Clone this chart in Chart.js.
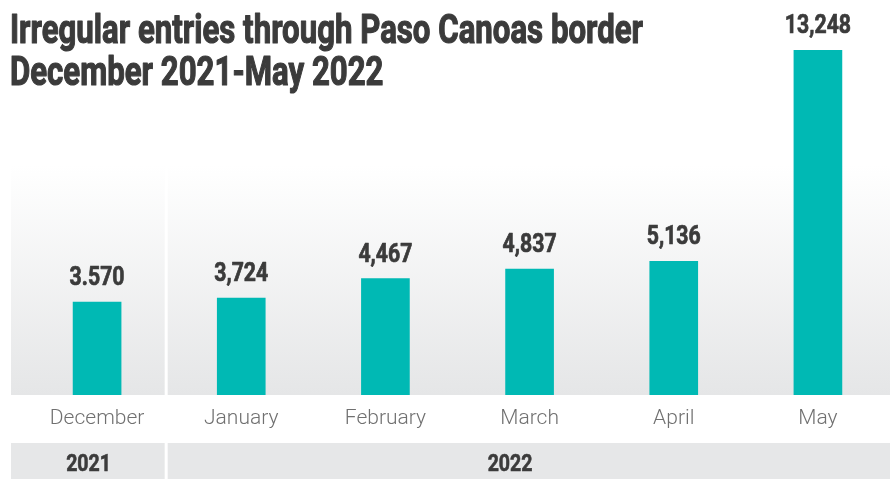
<!DOCTYPE html>
<html>
<head>
<meta charset="utf-8">
<script src="https://cdn.jsdelivr.net/npm/chart.js"></script>
<style>
  html, body { margin: 0; padding: 0; background: #fff; }
  #chart { display: block; }
</style>
</head>
<body>
<canvas id="chart" width="890" height="479"></canvas>
<script>
// Entradas irregulares por Paso Canoas
const months = ['December', 'January', 'February', 'March', 'April', 'May'];
const entries = [3570, 3724, 4467, 4837, 5136, 13248];
const valueLabels = ['3.570', '3,724', '4,467', '4,837', '5,136', '13,248'];
const years = ['2021', '2022'];
const titleLines = ['Irregular entries through Paso Canoas border', 'December 2021-May 2022'];

const TEXT_DARK = '#3b3b3b';
const BAR_COLOR = '#00b9b4';
const BAND_COLOR = '#e6e7e8';

// texto "condensado": Roboto bold comprimido na horizontal, com contorno leve
function condensedText(ctx, text, x, y, size, align, sx, weight) {
  ctx.save();
  ctx.font = 'bold ' + size + 'px Roboto';
  ctx.textBaseline = 'alphabetic';
  ctx.textAlign = 'left';
  const w = ctx.measureText(text).width * sx;
  let left = x;
  if (align === 'center') left = x - w / 2;
  ctx.translate(left, y);
  ctx.scale(sx, 1);
  ctx.fillText(text, 0, 0);
  if (weight) {
    ctx.strokeStyle = ctx.fillStyle;
    ctx.lineWidth = weight;
    ctx.lineJoin = 'round';
    ctx.strokeText(text, 0, 0);
  }
  ctx.restore();
}

// fundo em degradê, divisória entre anos e faixa dos anos
const backdrop = {
  id: 'backdrop',
  beforeDraw(chart) {
    const { ctx, chartArea, scales } = chart;
    const x = scales.x;
    const top = 165, bottom = chartArea.bottom;
    const grad = ctx.createLinearGradient(0, top, 0, bottom);
    grad.addColorStop(0, '#ffffff');
    grad.addColorStop(1, '#e5e6e7');
    ctx.save();
    ctx.fillStyle = grad;
    ctx.fillRect(11, top, chart.width - 11, bottom - top);

    const bandTop = 443, bandBottom = chart.height;
    ctx.fillStyle = BAND_COLOR;
    ctx.fillRect(11, bandTop, chart.width - 11, bandBottom - bandTop);

    // linha branca entre 2021 e 2022
    const divX = (x.getPixelForValue(0) + x.getPixelForValue(1)) / 2 - 3;
    ctx.fillStyle = '#ffffff';
    ctx.fillRect(divX - 1.5, top, 3, bandBottom - top);

    ctx.fillStyle = TEXT_DARK;
    const centers = [(11 + divX) / 2, (divX + chart.width - 36) / 2];
    years.forEach((yr, i) => {
      condensedText(ctx, yr, centers[i], 471, 23, 'center', 0.85, 0.6);
    });
    ctx.restore();
  }
};

// título e rótulos de valor
const labelsPlugin = {
  id: 'labelsPlugin',
  afterDatasetsDraw(chart) {
    const { ctx } = chart;
    const meta = chart.getDatasetMeta(0);
    ctx.save();
    ctx.fillStyle = TEXT_DARK;
    meta.data.forEach((bar, i) => {
      condensedText(ctx, valueLabels[i], bar.x, bar.y - 17, 25, 'center', 0.85, 0.7);
    });
    ctx.font = 'bold 41px Roboto';
    const sx = 633 / ctx.measureText(titleLines[0]).width;
    condensedText(ctx, titleLines[0], 10, 43, 41, 'left', sx, 1.2);
    condensedText(ctx, titleLines[1], 10, 85, 41, 'left', sx, 1.2);
    ctx.restore();
  }
};

new Chart(document.getElementById('chart'), {
  type: 'bar',
  data: {
    labels: months,
    datasets: [{
      data: entries,
      backgroundColor: BAR_COLOR,
      barThickness: 48
    }]
  },
  options: {
    responsive: false,
    animation: false,
    layout: { padding: { top: 50, left: 25, right: 0, bottom: 0 } },
    plugins: {
      legend: { display: false },
      tooltip: { enabled: false }
    },
    scales: {
      x: {
        grid: { display: false },
        border: { display: false },
        ticks: {
          color: '#707070',
          padding: 3,
          font: { family: 'Roboto', size: 21, weight: 300 }
        },
        afterFit(scale) { scale.height = 84; }
      },
      y: {
        display: false,
        min: 0,
        max: Math.max(...entries)
      }
    }
  },
  plugins: [backdrop, labelsPlugin]
});
</script>
</body>
</html>
